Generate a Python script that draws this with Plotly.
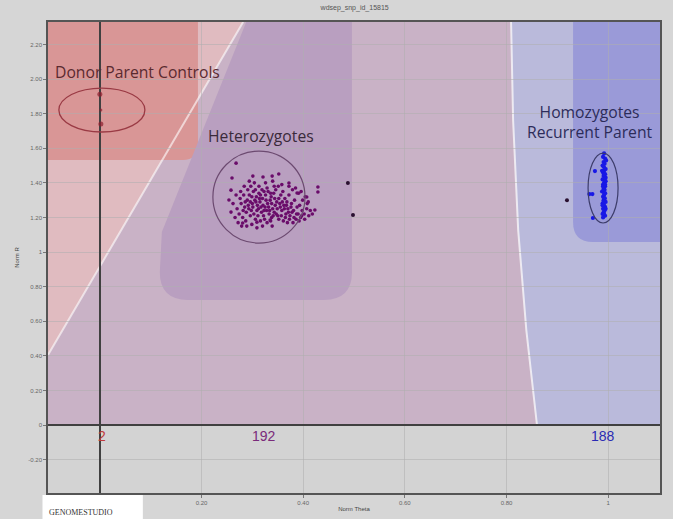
import plotly.graph_objects as go

# ---------------- data ----------------
x_tick_vals = [0.2, 0.4, 0.6, 0.8, 1.0]
x_tick_text = ["0.20", "0.40", "0.60", "0.80", "1"]
y_tick_vals = [-0.2, 0, 0.2, 0.4, 0.6, 0.8, 1.0, 1.2, 1.4, 1.6, 1.8, 2.0, 2.2]
y_tick_text = ["-0.20", "0", "0.20", "0.40", "0.60", "0.80", "1", "1.20", "1.40", "1.60", "1.80", "2.00", "2.20"]

cluster_names = ["Donor Parent Controls", "Heterozygotes", "Homozygotes<br>Recurrent Parent"]
cluster_counts = ["2", "192", "188"]

donor_theta = [0.000, 0.002, 0.002]
donor_r = [1.913, 1.821, 1.740]

het_theta = [
    0.300, 0.305, 0.310, 0.315, 0.320, 0.325, 0.330, 0.335, 0.340, 0.345,
    0.298, 0.303, 0.312, 0.318, 0.322, 0.328, 0.333, 0.338, 0.343, 0.350,
    0.290, 0.294, 0.302, 0.308, 0.313, 0.319, 0.326, 0.331, 0.337, 0.342,
    0.285, 0.288, 0.292, 0.296, 0.306, 0.311, 0.316, 0.324, 0.329, 0.336,
    0.348, 0.352, 0.355, 0.358, 0.362, 0.366, 0.370, 0.374, 0.378, 0.382,
    0.352, 0.357, 0.361, 0.365, 0.369, 0.373, 0.380, 0.386, 0.390, 0.395,
    0.270, 0.274, 0.278, 0.281, 0.276, 0.283, 0.287, 0.291, 0.297, 0.304,
    0.346, 0.351, 0.356, 0.360, 0.364, 0.368, 0.372, 0.377, 0.383, 0.388,
    0.393, 0.398, 0.402, 0.407, 0.411, 0.399, 0.404, 0.391, 0.385, 0.379,
    0.262, 0.266, 0.268, 0.272, 0.279, 0.289, 0.299, 0.309, 0.320, 0.339,
    0.301, 0.307, 0.314, 0.321, 0.327, 0.332, 0.338, 0.344, 0.349, 0.354,
    0.296, 0.309, 0.317, 0.323, 0.334, 0.341, 0.347, 0.359, 0.363, 0.367,
    0.282, 0.286, 0.293, 0.299, 0.306, 0.316, 0.323, 0.329, 0.336, 0.343,
    0.371, 0.376, 0.381, 0.387, 0.392, 0.397, 0.403, 0.408, 0.414, 0.418,
    0.277, 0.284, 0.294, 0.313, 0.326, 0.340, 0.358, 0.372, 0.396, 0.410,
    0.268, 0.260, 0.301, 0.321, 0.339, 0.352, 0.372, 0.388, 0.407, 0.258,
    0.254, 0.258, 0.281, 0.335, 0.309, 0.429, 0.429, 0.423,
]
het_r = [
    1.28, 1.30, 1.27, 1.29, 1.31, 1.26, 1.28, 1.30, 1.25, 1.27,
    1.24, 1.22, 1.25, 1.23, 1.21, 1.24, 1.22, 1.20, 1.23, 1.21,
    1.30, 1.33, 1.35, 1.32, 1.34, 1.36, 1.33, 1.35, 1.32, 1.34,
    1.26, 1.23, 1.27, 1.21, 1.19, 1.21, 1.18, 1.19, 1.17, 1.18,
    1.29, 1.31, 1.26, 1.24, 1.27, 1.22, 1.25, 1.21, 1.23, 1.20,
    1.19, 1.21, 1.18, 1.20, 1.17, 1.19, 1.17, 1.19, 1.22, 1.20,
    1.25, 1.22, 1.28, 1.20, 1.31, 1.33, 1.18, 1.36, 1.38, 1.40,
    1.36, 1.38, 1.33, 1.35, 1.31, 1.29, 1.33, 1.28, 1.30, 1.26,
    1.27, 1.24, 1.22, 1.25, 1.21, 1.30, 1.32, 1.34, 1.37, 1.36,
    1.28, 1.20, 1.33, 1.17, 1.15, 1.15, 1.16, 1.14, 1.15, 1.15,
    1.26, 1.29, 1.31, 1.27, 1.30, 1.26, 1.28, 1.31, 1.25, 1.28,
    1.29, 1.24, 1.26, 1.24, 1.24, 1.21, 1.22, 1.29, 1.25, 1.27,
    1.24, 1.29, 1.25, 1.32, 1.36, 1.33, 1.35, 1.37, 1.34, 1.38,
    1.23, 1.26, 1.24, 1.22, 1.18, 1.21, 1.19, 1.28, 1.24, 1.22,
    1.35, 1.38, 1.41, 1.38, 1.40, 1.41, 1.39, 1.38, 1.35, 1.29,
    1.514, 1.428, 1.439, 1.434, 1.439, 1.451, 1.399, 1.341, 1.318, 1.358,
    1.301, 1.231, 1.168, 1.185, 1.173, 1.376, 1.347, 1.243,
]

hom_theta = [
    0.992, 0.990, 0.994, 0.991, 0.993, 0.989, 0.995, 0.992, 0.990, 0.994,
    0.991, 0.993, 0.989, 0.995, 0.992, 0.990, 0.994, 0.991, 0.993, 0.988,
    0.994, 0.992, 0.990, 0.993, 0.991, 0.995, 0.989, 0.992, 0.994, 0.990,
    0.993, 0.991, 0.992, 0.994, 0.990, 0.992, 0.995, 0.991, 0.993, 0.989,
    0.996, 0.988, 0.994, 0.990, 0.993, 0.991, 0.995, 0.989, 0.992, 0.994,
    0.974, 0.963, 0.969, 0.970,
]
hom_r = [
    1.57, 1.55, 1.54, 1.52, 1.51, 1.50, 1.48, 1.47, 1.46, 1.45,
    1.44, 1.43, 1.42, 1.41, 1.40, 1.39, 1.38, 1.37, 1.36, 1.35,
    1.34, 1.33, 1.32, 1.31, 1.30, 1.29, 1.28, 1.27, 1.26, 1.25,
    1.24, 1.23, 1.22, 1.21, 1.20, 1.49, 1.43, 1.36, 1.31, 1.27,
    1.53, 1.47, 1.41, 1.38, 1.34, 1.29, 1.25, 1.22, 1.45, 1.39,
    1.468, 1.335, 1.335, 1.197,
]

nocall_theta = [0.488, 0.498, 0.919]
nocall_r = [1.399, 1.214, 1.300]

# ---------------- figure ----------------
XL, XR = -0.102, 1.102
YB, YT = -0.393, 2.33

fig = go.Figure()

fig.add_trace(go.Scatter(x=donor_theta, y=donor_r, mode="markers",
                         marker=dict(size=[5, 3, 5], color="#8b1c2c", line=dict(width=0)), hoverinfo="x+y"))
fig.add_trace(go.Scatter(x=het_theta, y=het_r, mode="markers",
                         marker=dict(size=3.6, color="#6a0c6a", line=dict(width=0)), hoverinfo="x+y"))
fig.add_trace(go.Scatter(x=hom_theta, y=hom_r, mode="markers",
                         marker=dict(size=4.2, color="#1818e6", line=dict(width=0)), hoverinfo="x+y"))
fig.add_trace(go.Scatter(x=nocall_theta, y=nocall_r, mode="markers",
                         marker=dict(size=4, color="#2a1030", line=dict(width=0)), hoverinfo="x+y"))

shapes = []
def region(path, color):
    shapes.append(dict(type="path", path=path, xref="x", yref="y", fillcolor=color,
                       line=dict(width=0), layer="below"))

# base light purple region above R = 0
region(f"M {XL},0 L {XR},0 L {XR},{YT} L {XL},{YT} Z", "#c9b2c6")
# light pink donor zone
region(f"M {XL},0.405 L {XL},{YT} L 0.282,{YT} Z", "#e0bbc0")
# light blue recurrent zone
region(f"M 0.809,{YT} L 0.813,1.763 L 0.823,1.127 L 0.839,0.549 L 0.860,0 L {XR},0 L {XR},{YT} Z", "#babadb")
# dark red donor box
region(f"M {XL},{YT} L 0.193,{YT} L 0.193,1.62 Q 0.193,1.532 0.163,1.532 L {XL},1.532 Z", "#d99696")
# dark blue recurrent box
region(f"M 0.931,{YT} L {XR},{YT} L {XR},1.058 L 0.970,1.058 Q 0.931,1.058 0.931,1.174 Z", "#9a9ad8")
# heterozygote region
region(f"M 0.288,{YT} L 0.496,{YT} L 0.496,0.884 Q 0.496,0.723 0.441,0.723 L 0.173,0.723 "
       f"Q 0.118,0.723 0.118,0.884 L 0.122,1.116 Z", "#b99fc0")

# white boundary lines
shapes.append(dict(type="path", path=f"M {XL},0.405 L 0.282,{YT}", xref="x", yref="y",
                   line=dict(color="rgba(255,255,255,0.6)", width=2), layer="below"))
shapes.append(dict(type="path", path=f"M 0.809,{YT} L 0.813,1.763 L 0.823,1.127 L 0.839,0.549 L 0.860,0",
                   xref="x", yref="y", line=dict(color="rgba(255,255,255,0.7)", width=2), layer="below"))

# cluster ellipses
shapes.append(dict(type="circle", xref="x", yref="y", x0=0.004 - 0.0846, x1=0.004 + 0.0846,
                   y0=1.821 - 0.127, y1=1.821 + 0.127, line=dict(color="#9a3a44", width=1.3)))
shapes.append(dict(type="circle", xref="x", yref="y", x0=0.313 - 0.0906, x1=0.313 + 0.0906,
                   y0=1.318 - 0.266, y1=1.318 + 0.266, line=dict(color="#6c4a70", width=1.2)))
shapes.append(dict(type="circle", xref="x", yref="y", x0=0.990 - 0.0295, x1=0.990 + 0.0295,
                   y0=1.370 - 0.202, y1=1.370 + 0.202, line=dict(color="#3c3c6a", width=1.2)))

# GENOMESTUDIO white box
shapes.append(dict(type="rect", xref="paper", yref="paper", x0=-0.009, x1=0.155, y0=-0.06, y1=-0.004,
                   fillcolor="white", line=dict(width=0), layer="above"))

label_font = "Open Sans"
annotations = [
    dict(x=-0.093, y=2.04, xref="x", yref="y", text=cluster_names[0], showarrow=False, xanchor="left",
         font=dict(family=label_font, size=15.7, color="#5a2a30")),
    dict(x=0.317, y=1.67, xref="x", yref="y", text=cluster_names[1], showarrow=False,
         font=dict(family=label_font, size=15.7, color="#3a2a3a")),
    dict(x=0.965, y=1.751, xref="x", yref="y", text=cluster_names[2], showarrow=False,
         font=dict(family=label_font, size=15.7, color="#2c2c5a")),
    dict(x=0.004, y=-0.064, xref="x", yref="y", text=cluster_counts[0], showarrow=False,
         font=dict(family="Liberation Sans", size=14, color="#c03a3a")),
    dict(x=0.323, y=-0.064, xref="x", yref="y", text=cluster_counts[1], showarrow=False,
         font=dict(family="Liberation Sans", size=14, color="#7a2a7a")),
    dict(x=0.990, y=-0.064, xref="x", yref="y", text=cluster_counts[2], showarrow=False,
         font=dict(family="Liberation Sans", size=14, color="#2a2ab4")),
    dict(x=-0.002, y=-0.041, xref="paper", yref="paper", text="GENOMESTUDIO", showarrow=False,
         xanchor="left", yanchor="middle", font=dict(family="Liberation Serif", size=8, color="#333")),
]

fig.update_layout(
    width=673, height=519,
    margin=dict(l=48, r=13, t=22, b=26, autoexpand=False),
    paper_bgcolor="#d6d6d6", plot_bgcolor="#d3d3d3",
    showlegend=False,
    shapes=shapes, annotations=annotations,
    title=dict(text="wdsep_snp_id_15815", x=0.527, xanchor="center", y=0.985, yanchor="middle",
               font=dict(family="Liberation Sans", size=7, color="#555")),
    font=dict(family="Liberation Sans"),
)
fig.update_xaxes(range=[XL, XR], tickvals=x_tick_vals, ticktext=x_tick_text, automargin=False,
                 ticks="outside", ticklen=3, tickcolor="#777", tickfont=dict(size=6, color="#666"),
                 showgrid=True, gridcolor="rgba(175,175,175,0.55)", gridwidth=1,
                 zeroline=True, zerolinecolor="#404040", zerolinewidth=1.5,
                 showline=True, mirror=True, linecolor="#555", linewidth=1.5,
                 title=dict(text="Norm Theta", font=dict(size=6, color="#444"), standoff=2))
fig.update_yaxes(range=[YB, YT], tickvals=y_tick_vals, ticktext=y_tick_text, automargin=False,
                 ticks="outside", ticklen=3, tickcolor="#777", tickfont=dict(size=6, color="#666"),
                 showgrid=True, gridcolor="rgba(175,175,175,0.55)", gridwidth=1,
                 zeroline=True, zerolinecolor="#404040", zerolinewidth=1.5,
                 showline=True, mirror=True, linecolor="#555", linewidth=1.5,
                 title=dict(text="Norm R", font=dict(size=6, color="#444"), standoff=8))

fig.write_html("out.html", config={"displayModeBar": False},
               post_script="document.body.style.margin='0px';document.body.style.background='#d6d6d6';")
